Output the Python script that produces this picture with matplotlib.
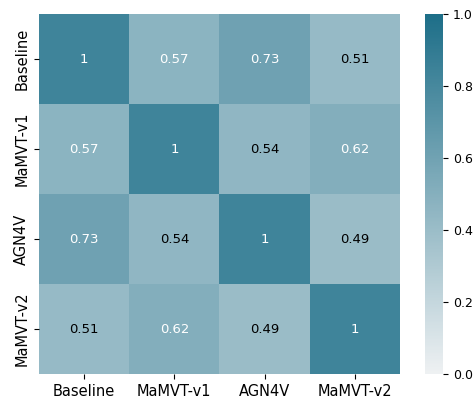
import numpy as np
import matplotlib
matplotlib.use("Agg")
import matplotlib.pyplot as plt
import seaborn as sns

labels = ["Baseline", "MaMVT-v1", "AGN4V", "MaMVT-v2"]
corr = np.array([
    [1.00, 0.57, 0.73, 0.51],
    [0.57, 1.00, 0.54, 0.62],
    [0.73, 0.54, 1.00, 0.49],
    [0.51, 0.62, 0.49, 1.00],
])

cmap = sns.light_palette("#1d6e88", as_cmap=True)

fig = plt.figure(figsize=(4.76, 4.01), dpi=100)
ax = fig.add_axes([0.082, 0.067, 0.758, 0.898])
cax = fig.add_axes([0.893, 0.067, 0.038, 0.898])
sns.heatmap(corr, annot=True, cmap=cmap, vmin=0, vmax=1,
            xticklabels=labels, yticklabels=labels, ax=ax, cbar_ax=cax,
            annot_kws={"size": 9.5})
ax.collections[0].set_alpha(0.85)

# text colour: white on the darker cells, black on the lighter ones
for t, v in zip(ax.texts, corr.flatten()):
    t.set_color("white" if v >= 0.56 else "black")

ax.tick_params(labelsize=10.5)
cax.tick_params(labelsize=9)
fig.savefig("out.png", dpi=100)
